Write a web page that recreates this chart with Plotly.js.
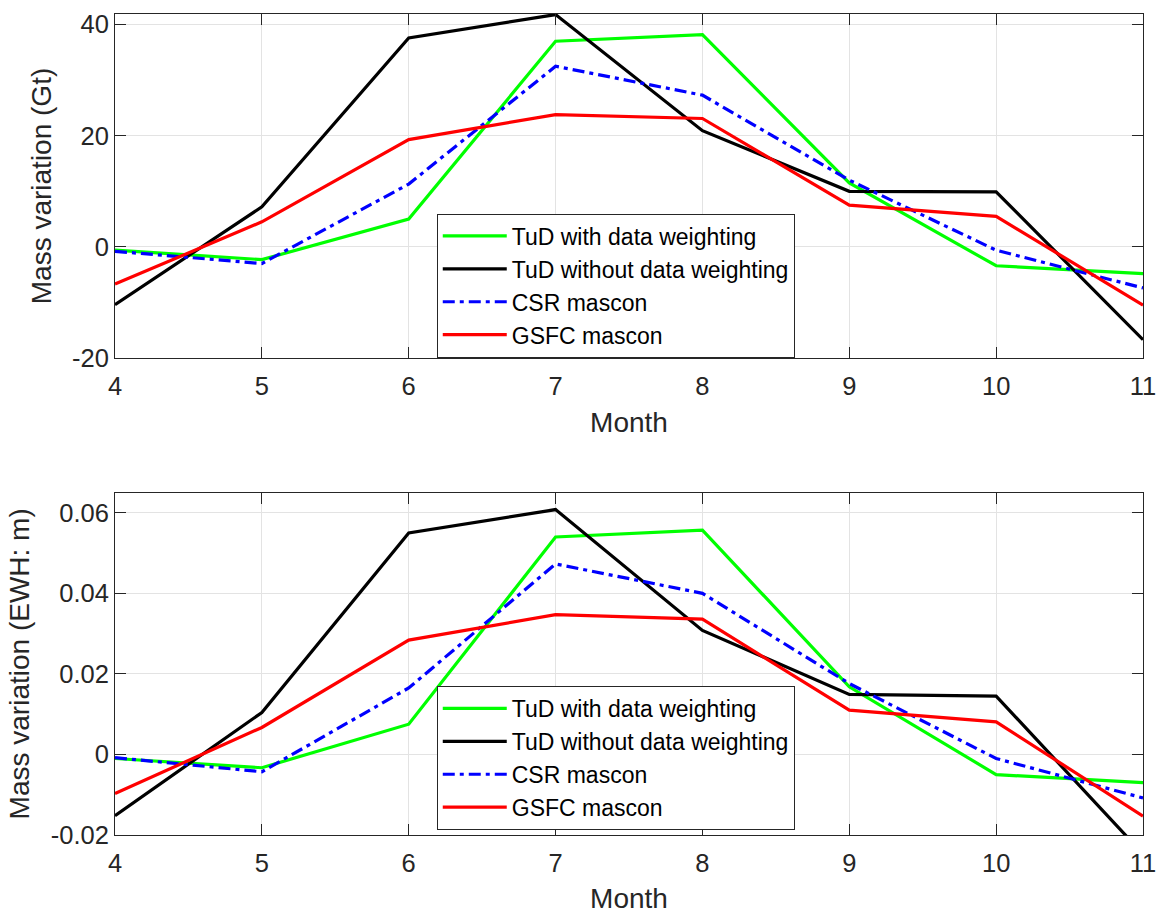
<!DOCTYPE html>
<html><head><meta charset="utf-8">
<script src="https://cdn.plot.ly/plotly-3.0.1.min.js"></script>
<style>html,body{margin:0;padding:0;background:#fff}#chart{width:1157px;height:914px}</style>
</head><body><div id="chart"></div>
<script>
const months = [4,5,6,7,8,9,10,11];
const seriesNames = ['TuD with data weighting','TuD without data weighting','CSR mascon','GSFC mascon'];
// Top panel: Gt
const gtTudWith    = [-0.6, -2.3, 5.0, 37.0, 38.2, 11.5, -3.4, -4.8];
const gtTudWithout = [-10.4, 7.2, 37.6, 41.8, 20.9, 10.0, 9.9, -16.7];
const gtCsr        = [-0.8, -3.0, 11.3, 32.5, 27.3, 12.0, -0.6, -7.4];
const gtGsfc       = [-6.7, 4.5, 19.3, 23.8, 23.1, 7.5, 5.5, -10.5];
// Bottom panel: EWH (m)
const ewhTudWith    = [-0.0010, -0.0033, 0.0075, 0.0540, 0.0557, 0.0168, -0.0050, -0.0070];
const ewhTudWithout = [-0.0152, 0.0104, 0.0550, 0.0608, 0.0308, 0.0149, 0.0145, -0.0247];
const ewhCsr        = [-0.0008, -0.0043, 0.0165, 0.0473, 0.0400, 0.0176, -0.0010, -0.0108];
const ewhGsfc       = [-0.0097, 0.0067, 0.0284, 0.0347, 0.0336, 0.0110, 0.0081, -0.0153];
const xTicks = [4,5,6,7,8,9,10,11];
const gtTickVals = [-20,0,20,40];
const gtTickText = ['-20','0','20','40'];
const ewhTickVals = [-0.02,0,0.02,0.04,0.06];
const ewhTickText = ['-0.02','0','0.02','0.04','0.06'];

const colors = ['#00ff00','#000000','#0000ff','#ff0000'];
const dashes = ['solid','solid','12px,5px,4px,5px','solid'];
const topData = [gtTudWith, gtTudWithout, gtCsr, gtGsfc];
const botData = [ewhTudWith, ewhTudWithout, ewhCsr, ewhGsfc];

const traces = [];
topData.forEach((d,i)=>traces.push({x:months,y:d,type:'scatter',mode:'lines',name:seriesNames[i],
  line:{color:colors[i],width:3.2,dash:dashes[i]},xaxis:'x',yaxis:'y',legend:'legend'}));
botData.forEach((d,i)=>traces.push({x:months,y:d,type:'scatter',mode:'lines',name:seriesNames[i],
  line:{color:colors[i],width:3.2,dash:dashes[i]},xaxis:'x2',yaxis:'y2',legend:'legend2'}));

const fontFam = '"Liberation Sans", Arial, Helvetica, sans-serif';
const axCol = '#262626';
function xa(anchor){return {anchor:anchor,range:[4,11],tickvals:xTicks,ticktext:xTicks.map(String),
  ticks:'inside',ticklen:11,tickcolor:axCol,showline:true,linecolor:axCol,linewidth:1,mirror:'ticks',
  showgrid:true,gridcolor:'#e3e3e3',gridwidth:1,zeroline:false,ticklabelstandoff:5,
  tickfont:{family:fontFam,size:25.5,color:axCol},
  title:{text:'Month',font:{family:fontFam,size:28,color:axCol},standoff:13},automargin:false};}
function ya(anchor,dom,rng,tv,tt,title){return {anchor:anchor,domain:dom,range:rng,tickvals:tv,ticktext:tt,
  ticks:'inside',ticklen:11,tickcolor:axCol,showline:true,linecolor:axCol,linewidth:1,mirror:'ticks',
  showgrid:true,gridcolor:'#e3e3e3',gridwidth:1,zeroline:false,
  tickfont:{family:fontFam,size:25.5,color:axCol},
  title:{text:title,font:{family:fontFam,size:28,color:axCol},standoff:12},automargin:false};}
const legendStyle = {x:0.313,xanchor:'left',yanchor:'top',bgcolor:'#ffffff',bordercolor:axCol,borderwidth:1,
  font:{family:fontFam,size:23,color:'#000'},tracegroupgap:0,itemwidth:64};
const layout = {
  width:1157,height:914,paper_bgcolor:'#fff',plot_bgcolor:'#fff',
  margin:{l:115.3,r:14.3,t:13.7,b:79.3},
  xaxis:Object.assign(xa('y'),{domain:[0,1]}),
  yaxis:ya('x',[0.581,1],[-20,41.9],gtTickVals,gtTickText,'Mass variation (Gt)'),
  xaxis2:Object.assign(xa('y2'),{domain:[0,1]}),
  yaxis2:ya('x2',[0,0.417],[-0.02,0.065],ewhTickVals,ewhTickText,'Mass variation (EWH: m)'),
  legend:Object.assign({},legendStyle,{y:0.757}),
  legend2:Object.assign({},legendStyle,{y:0.1815}),
  showlegend:true
};
Plotly.newPlot('chart',traces,layout,{staticPlot:true,displayModeBar:false});
</script></body></html>
